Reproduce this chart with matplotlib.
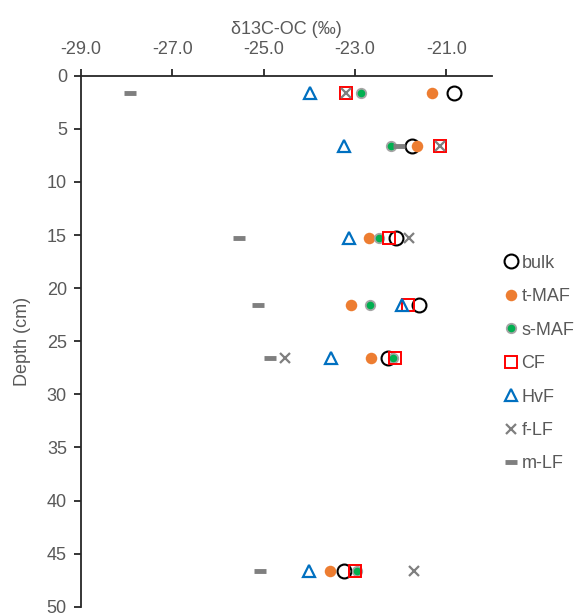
import matplotlib.pyplot as plt

plt.rcParams['font.family'] = ['Liberation Sans', 'DejaVu Sans']

depth = [1.6, 6.6, 15.3, 21.6, 26.6, 46.6]

bulk = [-20.83, -21.75, -22.11, -21.61, -22.27, -23.24]
t_maf = [-21.32, -21.64, -22.70, -23.09, -22.65, -23.55]
s_maf = [-22.87, -22.22, -22.47, -22.67, -22.18, -22.95]
cf = [-23.20, -21.14, -22.25, -21.85, -22.13, -23.00]
hvf = [-23.98, -23.24, -23.14, -21.98, -23.53, -24.00]
f_lf = [-23.20, -21.14, -21.83, None, -24.53, -21.71]
m_lf = [-27.93, -22.03, -25.54, -25.13, -24.86, -25.09]

x_ticks = [-29.0, -27.0, -25.0, -23.0, -21.0]
y_ticks = [0, 5, 10, 15, 20, 25, 30, 35, 40, 45, 50]

text_col = '#595959'
gray = '#7F7F7F'
fs = 13

fig = plt.figure(figsize=(5.77, 6.16), dpi=100)
ax = fig.add_axes([0.140, 0.015, 0.713, 0.862])


def pts(vals):
    return [(v, d) for v, d in zip(vals, depth) if v is not None]


def draw(vals, label, **kw):
    xy = pts(vals)
    ax.plot([p[0] for p in xy], [p[1] for p in xy], linestyle='none', label=label, **kw)


draw(bulk, 'bulk', marker='o', markersize=10, markerfacecolor='none',
     markeredgecolor='black', markeredgewidth=1.5)
draw(t_maf, 't-MAF', marker='o', markersize=8.3, markerfacecolor='#ED7D31',
     markeredgecolor='#ED7D31', markeredgewidth=0)
draw(s_maf, 's-MAF', marker='o', markersize=6.8, markerfacecolor='#00B050',
     markeredgecolor='#A5A5A5', markeredgewidth=1.3)
draw(cf, 'CF', marker='s', markersize=9, markerfacecolor='none',
     markeredgecolor='#FF0000', markeredgewidth=1.4)
draw(hvf, 'HvF', marker='^', markersize=9, markerfacecolor='none',
     markeredgecolor='#0070C0', markeredgewidth=1.6)
draw(f_lf, 'f-LF', marker='x', markersize=7.5, markeredgecolor=gray,
     markeredgewidth=1.6)
draw(m_lf, 'm-LF', marker='_', markersize=8.5, markeredgecolor=gray,
     markeredgewidth=3.5)

ax.set_xlim(-29, -20)
ax.set_ylim(50, 0)
ax.set_xticks(x_ticks)
ax.set_xticklabels([f'{t:.1f}' for t in x_ticks])
ax.set_yticks(y_ticks)
ax.xaxis.tick_top()
ax.xaxis.set_label_position('top')
ax.set_xlabel('δ13C-OC (‰)', fontsize=fs, color=text_col, labelpad=5)
ax.set_ylabel('Depth (cm)', fontsize=fs, color=text_col, labelpad=11)
ax.tick_params(axis='both', direction='out', length=5, width=1.3, pad=5,
               labelsize=fs, labelcolor=text_col, color='#262626')
ax.tick_params(axis='x', pad=8)
ax.spines['right'].set_visible(False)
ax.spines['bottom'].set_visible(False)
for s in ('left', 'top'):
    ax.spines[s].set_linewidth(1.3)
    ax.spines[s].set_color('#262626')

leg = fig.legend(loc='upper left', bbox_to_anchor=(0.857, 0.601), frameon=False,
                 fontsize=fs, labelspacing=0.91, handlelength=0.8,
                 handletextpad=0.2, borderpad=0)
for t in leg.get_texts():
    t.set_color(text_col)

fig.savefig('out.png', dpi=100)
